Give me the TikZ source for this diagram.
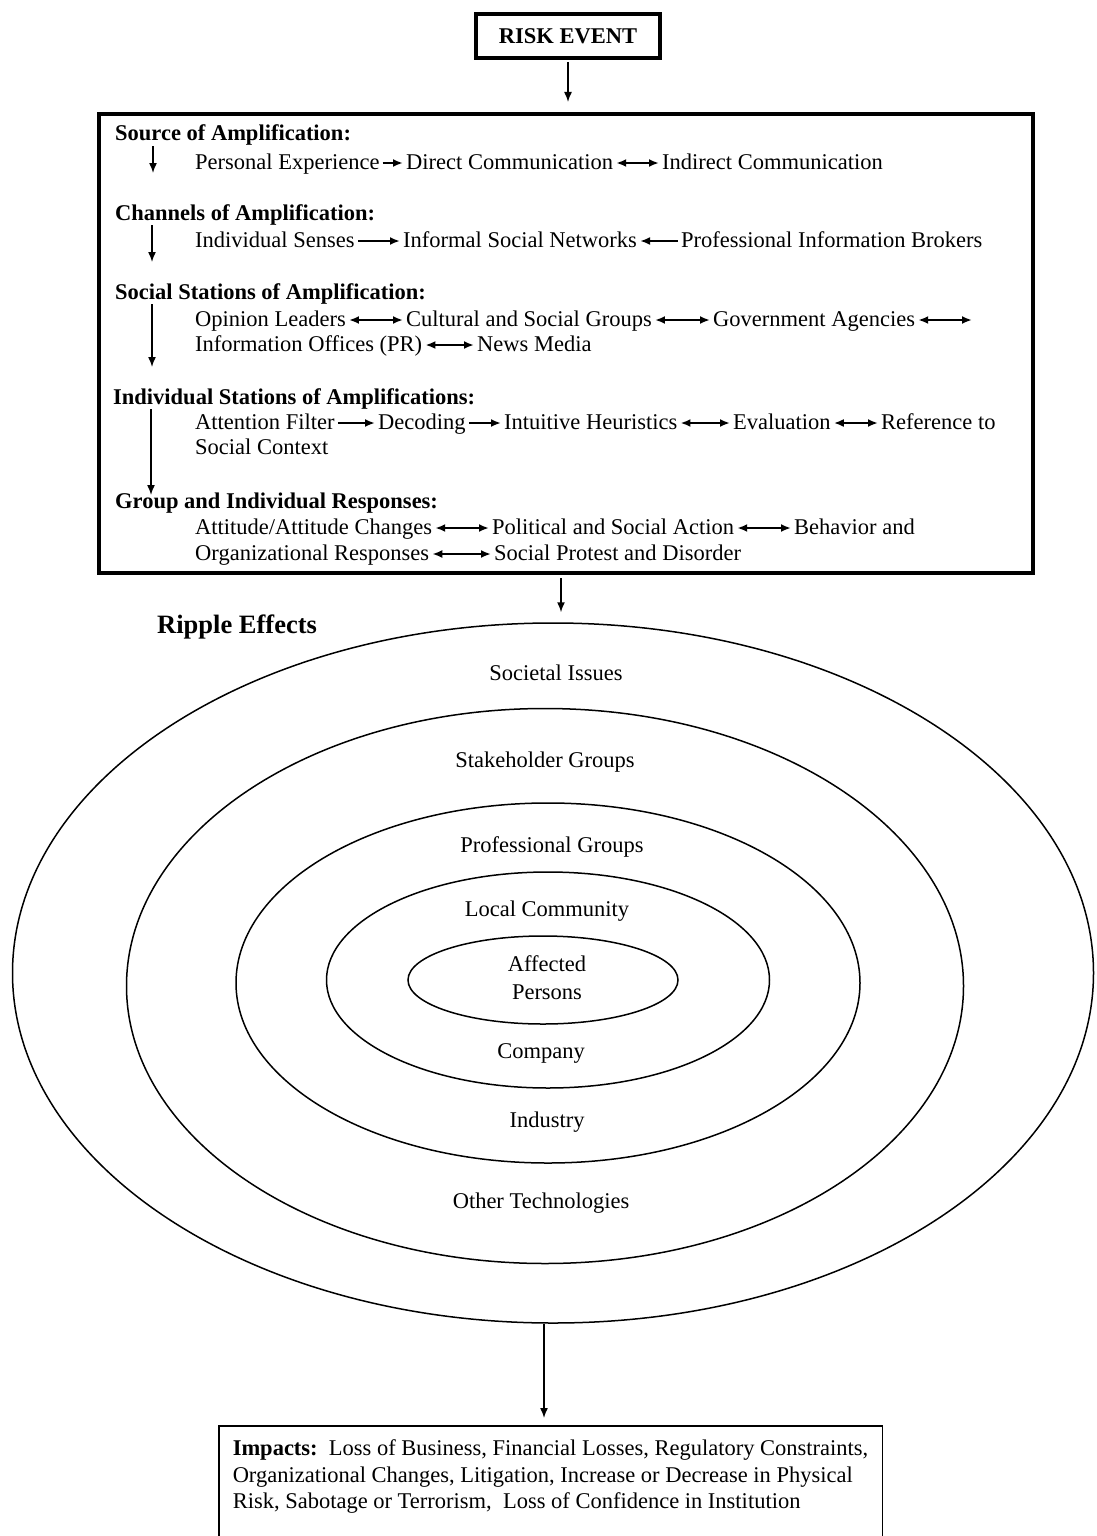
\documentclass[tikz,border=0pt]{standalone}
\usepackage{fontspec}
\setmainfont{Liberation Serif}
\usepackage{tikz}
\usetikzlibrary{calc, positioning, shapes.geometric, arrows.meta}
\newcommand{\rfont}{\fontsize{22.5}{26.5}\selectfont}
\tikzstyle{txt}=[inner sep=0pt, anchor=base west, text height=17pt, text depth=5pt, font=\rfont]
\tikzstyle{hd}=[txt, font=\rfont\bfseries]
\tikzstyle{heavy}=[draw, line width=4pt]
\tikzstyle{ring}=[draw, shape=ellipse, line width=1.5pt, inner sep=0pt]
\tikzstyle{rlab}=[inner sep=0pt, text height=17pt, text depth=5pt, font=\rfont]
\tikzstyle{flow}=[line width=1.5pt, ->]
\tikzstyle{link}=[line width=2pt, shorten <=3pt, shorten >=3pt]
\tikzset{>={Latex[length=10pt,width=8pt]}}

\begin{document}
\begin{tikzpicture}[x=1pt, y=-1pt]
\useasboundingbox (0,0) rectangle (1096,1536);

\node[heavy, font=\rfont\bfseries, minimum width=184, minimum height=44] (risk) at (568,36) {RISK EVENT};
\node[heavy, anchor=north west, minimum width=934, minimum height=459] (amp) at (97,112) {};
\draw[flow, shorten <=2pt, shorten >=10pt] (risk.south) -- (amp.north -| risk.south);

% amplification stations
\node[hd] (srchd) at (115,141) {Source of Amplification:};
\node[txt] (s1) at (195,169) {Personal Experience};
\node[txt] (s2) at (406,169) {Direct Communication};
\node[txt] (s3) at (662,169) {Indirect Communication};
\draw[link, ->] (s1) -- (s2);
\draw[link, <->] (s2) -- (s3);

\node[hd] (chhd) at (115,220) {Channels of Amplification:};
\node[txt] (c1) at (195,247) {Individual Senses};
\node[txt] (c2) at (403,247) {Informal Social Networks};
\node[txt] (c3) at (681,247) {Professional Information Brokers};
\draw[link, ->] (c1) -- (c2);
\draw[link, <-] (c2) -- (c3);

\node[hd] (sochd) at (115,299) {Social Stations of Amplification:};
\node[txt] (o1) at (195,326) {Opinion Leaders};
\node[txt] (o2) at (406,326) {Cultural and Social Groups};
\node[txt] (o3) at (713,326) {Government Agencies};
\coordinate (oend) at (975,320);
\node[txt] (o4) at (195,351) {Information Offices (PR)};
\node[txt] (o5) at (477,351) {News Media};
\draw[link, <->] (o1) -- (o2);
\draw[link, <->] (o2) -- (o3);
\draw[link, <->] (o3.east) -- (oend);
\draw[link, <->] (o4) -- (o5);

\node[hd] (indhd) at (113,404) {Individual Stations of Amplifications:};
\node[txt] (i1) at (195,429) {Attention Filter};
\node[txt] (i2) at (378,429) {Decoding};
\node[txt] (i3) at (504,429) {Intuitive Heuristics};
\node[txt] (i4) at (733,429) {Evaluation};
\node[txt] (i5) at (881,429) {Reference to};
\node[txt] (i6) at (195,454) {Social Context};
\draw[link, ->] (i1) -- (i2);
\draw[link, ->] (i2) -- (i3);
\draw[link, <->] (i3) -- (i4);
\draw[link, <->] (i4) -- (i5);

\node[hd] (grphd) at (115,508) {Group and Individual Responses:};
\node[txt] (g1) at (195,534) {Attitude/Attitude Changes};
\node[txt] (g2) at (492,534) {Political and Social Action};
\node[txt] (g3) at (794,534) {Behavior and};
\node[txt] (g4) at (195,560) {Organizational Responses};
\node[txt] (g5) at (494,560) {Social Protest and Disorder};
\draw[link, <->] (g1) -- (g2);
\draw[link, <->] (g2) -- (g3);
\draw[link, <->] (g4) -- (g5);

\coordinate (v1) at (153,173);
\coordinate (v2) at (152,262);
\coordinate (v3) at (152,367);
\coordinate (v4) at (151,495);
\draw[flow] (srchd.south -| v1) -- (v1);
\draw[flow] (chhd.south -| v2) -- (v2);
\draw[flow] (sochd.south -| v3) -- (v3);
\draw[flow] (indhd.south -| v4) -- (v4);

% ripple effects
\node[anchor=base west, inner sep=0pt, font=\fontsize{26.5}{30}\selectfont\bfseries] (ripple) at (157,633) {Ripple Effects};
\node[ring, minimum width=1081, minimum height=700] (r1) at (553,973) {};
\node[ring, minimum width=837, minimum height=555] (r2) at (545,986) {};
\node[ring, minimum width=624, minimum height=360] (r3) at (548,983) {};
\node[ring, minimum width=443, minimum height=216] (r4) at (548,980) {};
\node[ring, minimum width=270, minimum height=88] (r5) at (543,980) {};

\node[rlab] (l1) at (556,674) {Societal Issues};
\node[rlab] (l2) at (545,761) {Stakeholder Groups};
\node[rlab] (l3) at (552,846) {Professional Groups};
\node[rlab] (l4) at (547,910) {Local Community};
\node[inner sep=0pt, font=\fontsize{22.5}{28}\selectfont, align=center] (l5) at (547,978) {Affected\\Persons};
\node[rlab] (l6) at (541,1052) {Company};
\node[rlab] (l7) at (547,1121) {Industry};
\node[rlab] (l8) at (541,1202) {Other Technologies};

\coordinate (drop1) at (561,0);
\coordinate (drop2) at (544,0);
\draw[flow, shorten <=3pt, shorten >=10pt] (amp.south -| drop1) -- (r1.north -| drop1);

\node[draw, line width=1.5pt, anchor=north west, align=left, minimum width=659, inner xsep=14pt, inner ysep=14pt, font=\rfont] (impacts) at (218,1425)
  {\textbf{Impacts:}\ \ Loss of Business, Financial Losses, Regulatory Constraints,\\
   Organizational Changes, Litigation, Increase or Decrease in Physical\\
   Risk, Sabotage or Terrorism,\ \ Loss of Confidence in Institution\\ \mbox{}};
\draw[flow, shorten >=7pt] (r1.south -| drop2) -- (impacts.north -| drop2);
\end{tikzpicture}
\end{document}
